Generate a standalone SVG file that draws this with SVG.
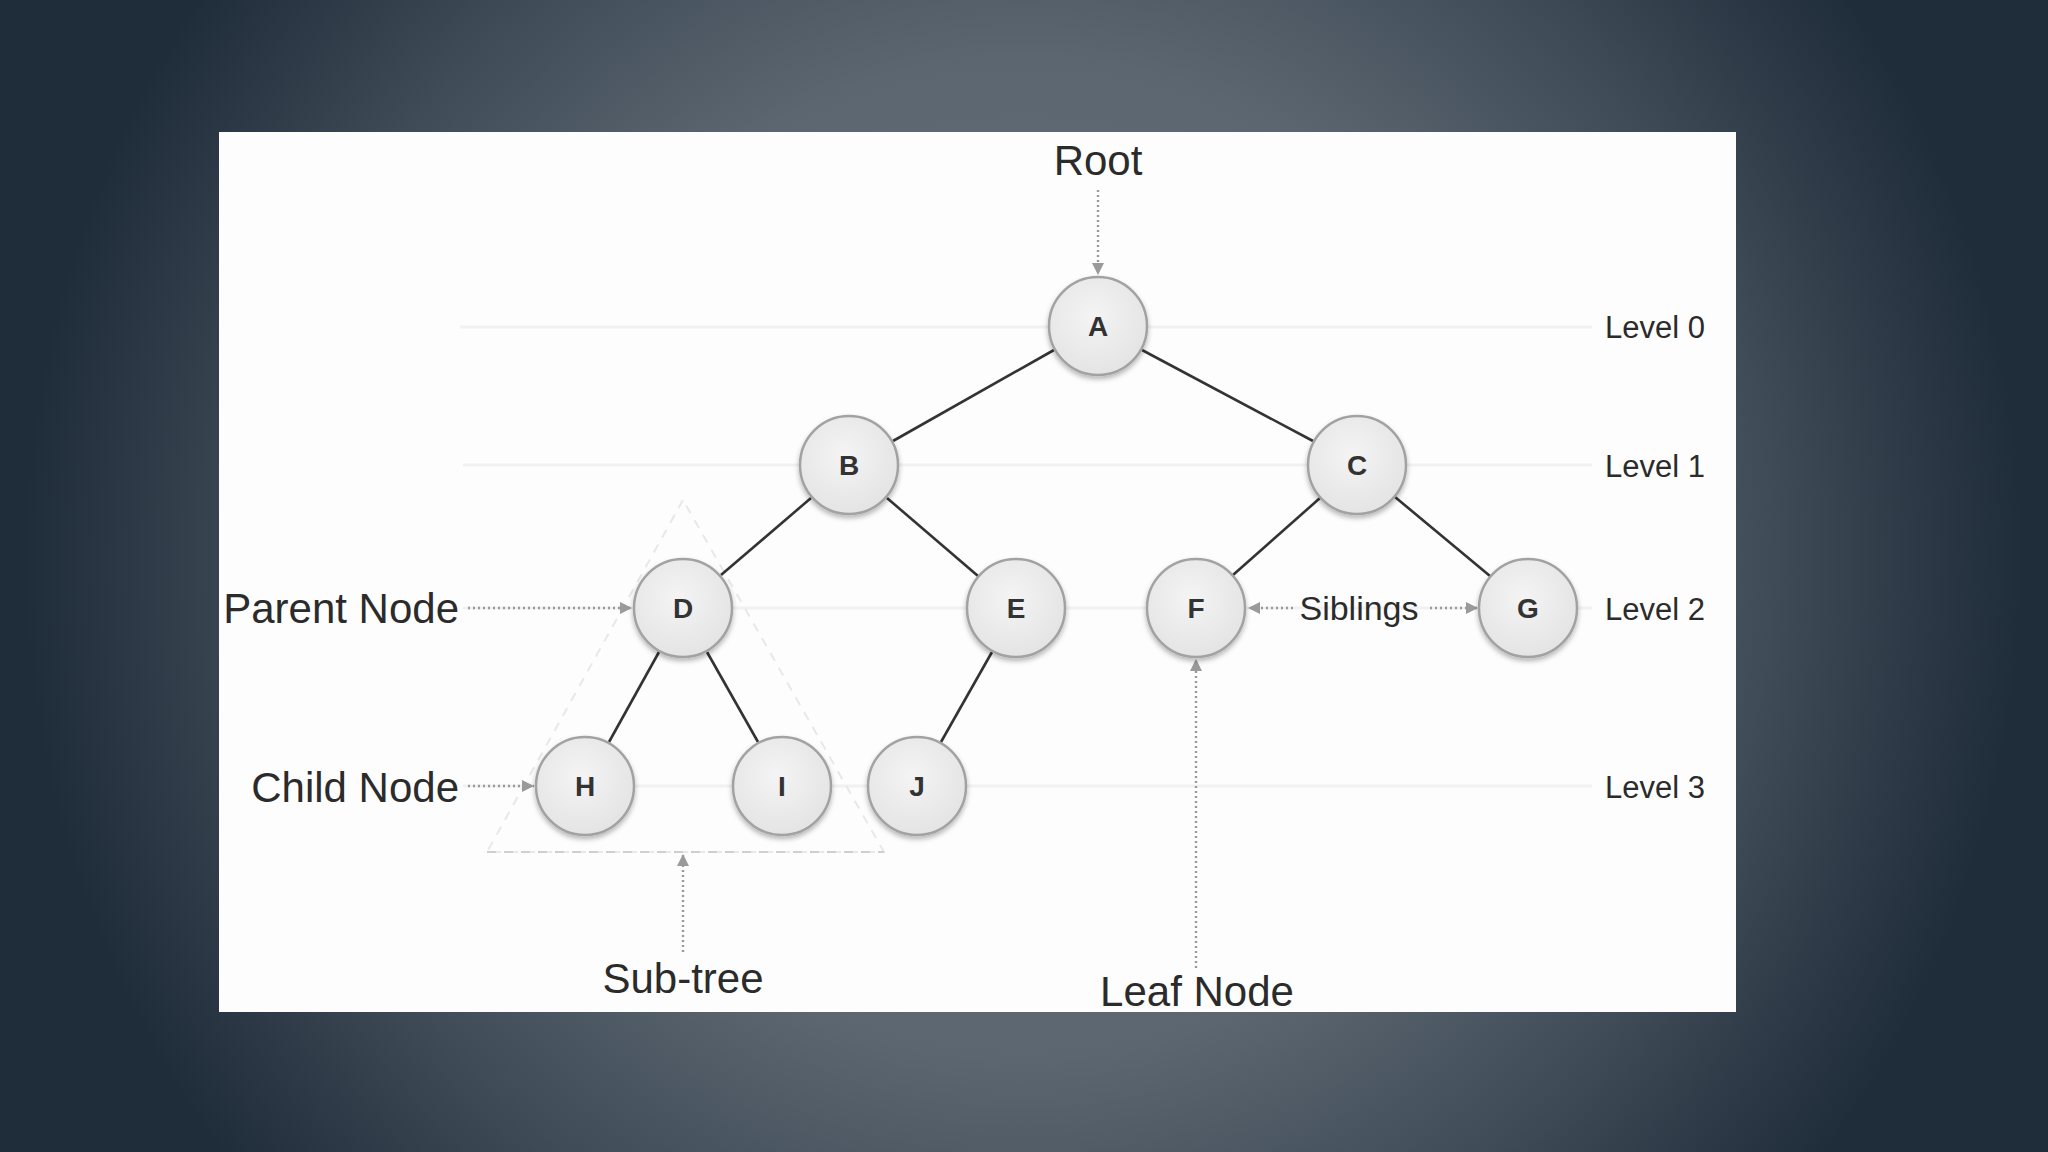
<svg xmlns="http://www.w3.org/2000/svg" width="2048" height="1152" viewBox="0 0 2048 1152">
  <defs>
    <radialGradient id="bg" gradientUnits="userSpaceOnUse" cx="1024" cy="560" r="1000">
      <stop offset="0" stop-color="#68737c"/>
      <stop offset="0.5" stop-color="#5b6670"/>
      <stop offset="0.75" stop-color="#3f4b57"/>
      <stop offset="1" stop-color="#1f2c39"/>
    </radialGradient>
    <radialGradient id="nodeFill" cx="45%" cy="40%" r="60%">
      <stop offset="0" stop-color="#f4f4f4"/>
      <stop offset="1" stop-color="#e4e4e4"/>
    </radialGradient>
    <filter id="shadow" x="-30%" y="-30%" width="160%" height="170%">
      <feDropShadow dx="0" dy="3" stdDeviation="2.5" flood-color="#000" flood-opacity="0.28"/>
    </filter>
    <marker id="arrow" markerUnits="userSpaceOnUse" markerWidth="14" markerHeight="14" refX="12" refY="6" orient="auto">
      <path d="M0,0 L12,6 L0,12 Z" fill="#9a9a9a"/>
    </marker>
    <style>
      .node circle { fill: url(#nodeFill); stroke: #a2a2a2; stroke-width: 2.5; filter: url(#shadow); }
      .node text { font-family: "Liberation Sans", Arial, sans-serif; font-weight: bold; font-size: 28px; fill: #333; text-anchor: middle; }
      .edge { stroke: #333; stroke-width: 2.6; fill: none; }
      .pointer { stroke: #999; stroke-width: 2.4; stroke-dasharray: 2 3; fill: none; marker-end: url(#arrow); }
      .level-line { stroke: #f1f1f1; stroke-width: 3; }
      .label { font-family: "Liberation Sans", Arial, sans-serif; font-size: 42px; fill: #2b2b2b; }
      .level { font-family: "Liberation Sans", Arial, sans-serif; font-size: 31px; fill: #2b2b2b; }
      .sib { font-family: "Liberation Sans", Arial, sans-serif; font-size: 34px; fill: #2b2b2b; }
    </style>
  </defs>

  <rect x="0" y="0" width="2048" height="1152" fill="url(#bg)"/>
  <rect x="219" y="132" width="1517" height="880" fill="#fdfdfd"/>

  <g id="level-lines">
    <line class="level-line" x1="460" y1="327" x2="1592" y2="327"/>
    <line class="level-line" x1="463" y1="465" x2="1592" y2="465"/>
    <line class="level-line" x1="463" y1="608" x2="1592" y2="608"/>
    <line class="level-line" x1="463" y1="786" x2="1592" y2="786"/>
  </g>

  <g id="subtree">
    <polygon points="683,500 487,852 884,852" fill="none" stroke="#e8e8e8" stroke-width="2" stroke-dasharray="9 8"/>
    <line x1="487" y1="852" x2="884" y2="852" stroke="#cfcfcf" stroke-width="2" stroke-dasharray="9 8"/>
  </g>

  <g id="connectors">
    <line class="edge" x1="1054" y1="350" x2="893" y2="441"/>
    <line class="edge" x1="1142" y1="350" x2="1313" y2="441"/>
    <line class="edge" x1="811" y1="498" x2="721" y2="575"/>
    <line class="edge" x1="887" y1="498" x2="978" y2="576"/>
    <line class="edge" x1="1320" y1="498" x2="1233" y2="575"/>
    <line class="edge" x1="1395" y1="497" x2="1490" y2="576"/>
    <line class="edge" x1="659" y1="652" x2="609" y2="742"/>
    <line class="edge" x1="707" y1="652" x2="758" y2="742"/>
    <line class="edge" x1="992" y1="652" x2="941" y2="742"/>

    <line class="pointer" x1="1098" y1="190" x2="1098" y2="275"/>
    <line class="pointer" x1="468" y1="608" x2="632" y2="608"/>
    <line class="pointer" x1="468" y1="786" x2="534" y2="786"/>
    <line class="pointer" x1="1293" y1="608" x2="1248" y2="608"/>
    <line class="pointer" x1="1430" y1="608" x2="1478" y2="608"/>
    <line class="pointer" x1="683" y1="952" x2="683" y2="854"/>
    <line class="pointer" x1="1196" y1="968" x2="1196" y2="659"/>
  </g>

  <g id="node-A" class="node"><circle cx="1098" cy="326" r="49"/><text x="1098" y="336">A</text></g>
  <g id="node-B" class="node"><circle cx="849" cy="465" r="49"/><text x="849" y="475">B</text></g>
  <g id="node-C" class="node"><circle cx="1357" cy="465" r="49"/><text x="1357" y="475">C</text></g>
  <g id="node-D" class="node"><circle cx="683" cy="608" r="49"/><text x="683" y="618">D</text></g>
  <g id="node-E" class="node"><circle cx="1016" cy="608" r="49"/><text x="1016" y="618">E</text></g>
  <g id="node-F" class="node"><circle cx="1196" cy="608" r="49"/><text x="1196" y="618">F</text></g>
  <g id="node-G" class="node"><circle cx="1528" cy="608" r="49"/><text x="1528" y="618">G</text></g>
  <g id="node-H" class="node"><circle cx="585" cy="786" r="49"/><text x="585" y="796">H</text></g>
  <g id="node-I" class="node"><circle cx="782" cy="786" r="49"/><text x="782" y="796">I</text></g>
  <g id="node-J" class="node"><circle cx="917" cy="786" r="49"/><text x="917" y="796">J</text></g>

  <g id="labels">
    <text class="label" x="1098" y="175" text-anchor="middle">Root</text>
    <text class="label" x="459" y="623" text-anchor="end">Parent Node</text>
    <text class="label" x="459" y="802" text-anchor="end">Child Node</text>
    <text class="label" x="683" y="993" text-anchor="middle">Sub-tree</text>
    <text class="label" x="1197" y="1006" text-anchor="middle">Leaf Node</text>
    <text class="sib" x="1359" y="620" text-anchor="middle">Siblings</text>
    <text class="level" x="1605" y="338">Level 0</text>
    <text class="level" x="1605" y="477">Level 1</text>
    <text class="level" x="1605" y="620">Level 2</text>
    <text class="level" x="1605" y="798">Level 3</text>
  </g>
</svg>
